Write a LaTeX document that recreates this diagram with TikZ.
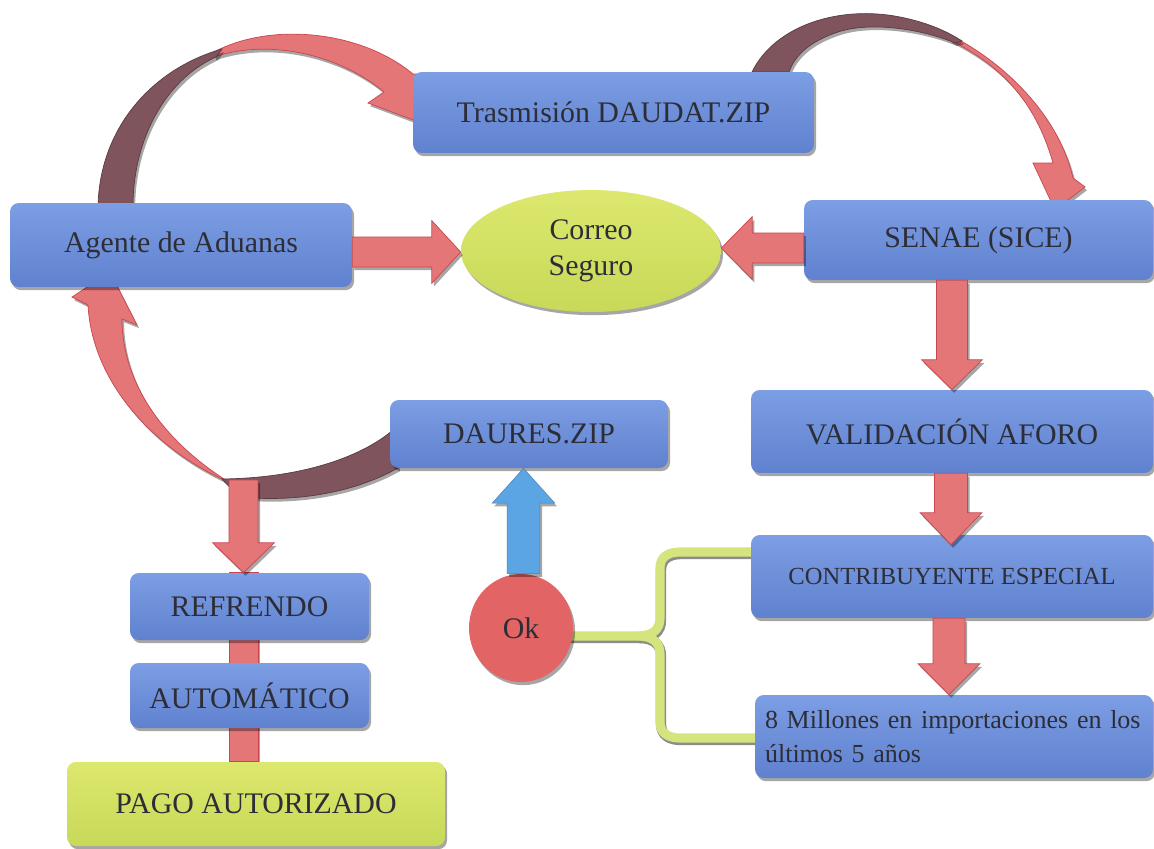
\documentclass[tikz,border=0pt]{standalone}
\usepackage{fontspec}
\setmainfont{Liberation Serif}
\usetikzlibrary{calc,shadows,shapes.geometric}
\pgfdeclarelayer{bg}
\pgfsetlayers{bg,main}
\definecolor{boxtop}{RGB}{124,158,228}
\definecolor{boxbot}{RGB}{96,129,206}
\definecolor{arrred}{RGB}{228,118,120}
\definecolor{arredge}{RGB}{200,70,80}
\definecolor{ribdark}{RGB}{128,84,92}
\definecolor{limetop}{RGB}{220,232,110}
\definecolor{limebot}{RGB}{200,216,88}
\definecolor{limeline}{RGB}{214,228,125}
\definecolor{okred}{RGB}{226,100,100}
\definecolor{arrblue}{RGB}{92,165,228}
\definecolor{txt}{RGB}{45,45,55}
\def\pxu{0.5669pt}
% vertical block arrow: style, x-point, start, tip, half shaft, half head, head length (px)
\newcommand\varrow[7]{%
  \path[#1] let \p1=(#2 |- #3), \p2=(#2 |- #4), \n1={sign(\y2-\y1)} in
   ({\x1-#5*\pxu},\y1) -- ({\x1-#5*\pxu},{\y2-\n1*#7*\pxu}) -- ({\x1-#6*\pxu},{\y2-\n1*#7*\pxu})
   -- (\x1,\y2) -- ({\x1+#6*\pxu},{\y2-\n1*#7*\pxu}) -- ({\x1+#5*\pxu},{\y2-\n1*#7*\pxu})
   -- ({\x1+#5*\pxu},\y1) -- cycle;}
% horizontal block arrow: style, y-point, start, tip, half shaft, half head, head length (px)
\newcommand\harrow[7]{%
  \path[#1] let \p1=(#2 -| #3), \p2=(#2 -| #4), \n1={sign(\x2-\x1)} in
   (\x1,{\y1-#5*\pxu}) -- ({\x2-\n1*#7*\pxu},{\y1-#5*\pxu}) -- ({\x2-\n1*#7*\pxu},{\y1-#6*\pxu})
   -- (\x2,\y1) -- ({\x2-\n1*#7*\pxu},{\y1+#6*\pxu}) -- ({\x2-\n1*#7*\pxu},{\y1+#5*\pxu})
   -- (\x1,{\y1+#5*\pxu}) -- cycle;}
\tikzset{
  shad/.style={drop shadow={shadow xshift=1.2pt, shadow yshift=-1.8pt, fill=black, opacity=0.35}},
  bigfont/.style={font=\fontsize{17pt}{20.4pt}\selectfont},
  bbox/.style={rectangle, rounded corners=5pt, top color=boxtop, bottom color=boxbot,
     draw=none, shad, text=txt, bigfont, inner sep=0pt},
  limeell/.style={ellipse, top color=limetop, bottom color=limebot, draw=none, shad,
     text=txt, bigfont, inner sep=0pt, align=center},
  limebox/.style={rectangle, rounded corners=5pt, top color=limetop, bottom color=limebot,
     draw=none, shad, text=txt, bigfont, inner sep=0pt},
  okstyle/.style={ellipse, fill=okred, draw=none, shad, text=txt, bigfont, inner sep=0pt},
  redarr/.style={fill=arrred, draw=arredge, line width=0.4pt, shad},
  bluarr/.style={fill=arrblue, draw=arrblue!80!black, line width=0.3pt, shad},
  ribred/.style={fill=arrred, draw=arredge, line width=0.4pt, shad},
  ribdk/.style={fill=ribdark, draw=ribdark!70!black, line width=0.4pt, shad},
  bracket/.style={draw=limeline, line width=5.2pt, line join=round,
     preaction={draw=black!45, line width=5.8pt, transform canvas={xshift=0.6pt,yshift=-1.2pt}}},
}
\begin{document}
\begin{tikzpicture}[x=0.02cm,y=-0.02cm]
\useasboundingbox (0,0) rectangle (1154,849);

% nodes
\node[bbox, minimum width=8.02cm, minimum height=1.62cm] (trans) at (613.5,112.5) {Trasmisión DAUDAT.ZIP};
\node[bbox, minimum width=6.84cm, minimum height=1.68cm] (agente) at (181,245) {Agente de Aduanas};
\node[limeell, minimum width=5.2cm, minimum height=2.44cm] (correo) at (591,251) {Correo\\Seguro};
\node[bbox, minimum width=6.98cm, minimum height=1.6cm] (senae) at (978.5,240) {SENAE (SICE)};
\node[bbox, minimum width=8.04cm, minimum height=1.66cm] (valid) at (952,431.5) {VALIDACIÓN AFORO};
\node[bbox, minimum width=8.04cm, minimum height=1.66cm, font=\fontsize{14pt}{17pt}\selectfont] (contrib) at (952,576.5) {CONTRIBUYENTE ESPECIAL};
\node[bbox, minimum width=7.96cm, minimum height=1.66cm, text width=7.56cm, align=left,
      font=\fontsize{14.8pt}{19.3pt}\selectfont] (millones) at (954,736.5) {8 Millones en importaciones en los\\últimos 5 años};
\node[bbox, minimum width=5.56cm, minimum height=1.36cm] (daures) at (529,434) {DAURES.ZIP};
\node[okstyle, minimum width=2.08cm, minimum height=2.16cm] (ok) at (521,628) {Ok};
\node[bbox, minimum width=4.78cm, minimum height=1.34cm] (refrendo) at (249.5,606.5) {REFRENDO};
\node[bbox, minimum width=4.78cm, minimum height=1.3cm] (auto) at (249.5,695.5) {AUTOMÁTICO};
\node[limebox, minimum width=7.56cm, minimum height=1.68cm] (pago) at (256,804) {PAGO AUTORIZADO};

\begin{pgfonlayer}{bg}
\fill[white] (0,0) rectangle (1154,849);
% curved arrow: Agente -> Trasmision
\path[ribred] (214,52) .. controls (270,22) and (360,30) .. (413,74) -- (432,74) -- (432,127)
   -- (368,103) -- (384,92) .. controls (340,55) and (270,38) .. (214,57) -- cycle;
\path[ribdk] (98,206) .. controls (100,125) and (155,68) .. (222,49) -- (216,57)
   .. controls (165,80) and (133,140) .. (133,206) -- cycle;
% curved arrow: Trasmision -> SENAE
\path[ribred] (948,34) .. controls (1010,65) and (1060,120) .. (1073,178) -- (1085,187)
   -- (1055,210) -- (1033,163) -- (1053,163) .. controls (1035,100) and (1000,65) .. (950,40) -- cycle;
\path[ribdk] (752,72) .. controls (775,25) and (840,5) .. (900,17) .. controls (925,22) and (945,30) .. (962,41)
   -- (955,43) .. controls (925,30) and (870,20) .. (835,33) .. controls (810,42) and (795,55) .. (789,72) -- cycle;
% curved arrow: DAURES -> Agente
\path[ribred] (222,479) .. controls (150,445) and (92,380) .. (88,305) -- (72,297) -- (110,272)
   -- (137,325) -- (122,319) .. controls (122,380) and (160,440) .. (232,484) -- cycle;
\path[ribdk] (393,430) .. controls (360,458) and (300,478) .. (222,479) -- (240,497)
   .. controls (290,502) and (350,495) .. (398,468) -- cycle;
% red bar behind the left column
\path[redarr] (229,0 |- refrendo.north) rectangle (258,0 |- pago.north);
% bracket from Ok
\draw[bracket] (ok.center |- 0,636) -- (638,636) .. controls (652,636) and (660,630) .. (660,618)
   -- (660,568) .. controls (660,557) and (668,552) .. (680,552) -- (contrib.center |- 0,552);
\draw[bracket] (638,636) .. controls (652,636) and (660,642) .. (660,654)
   -- (660,722) .. controls (660,733) and (668,738) .. (680,738) -- (millones.center |- 0,738);
\end{pgfonlayer}

% straight block arrows
\coordinate (lbtop) at (243.5,480);
\coordinate (ctip) at ($(contrib.north)+(0,10)$);
\harrow{redarr}{0,252}{agente.east}{correo.west}{15}{31.5}{29}
\harrow{redarr}{0,248}{senae.west}{correo.east}{15}{31.5}{31}
\varrow{redarr}{952,0}{senae.south}{valid.north}{15.5}{30.5}{30}
\varrow{redarr}{951,0}{valid.south}{ctip}{16.5}{31}{32}
\varrow{redarr}{949,0}{contrib.south}{millones.north}{16}{31}{31}
\varrow{redarr}{243.5,0}{lbtop}{refrendo.north}{14.5}{31}{30}
\varrow{bluarr}{523.5,0}{ok.north}{daures.south}{16.5}{31.5}{35}
\end{tikzpicture}
\end{document}
